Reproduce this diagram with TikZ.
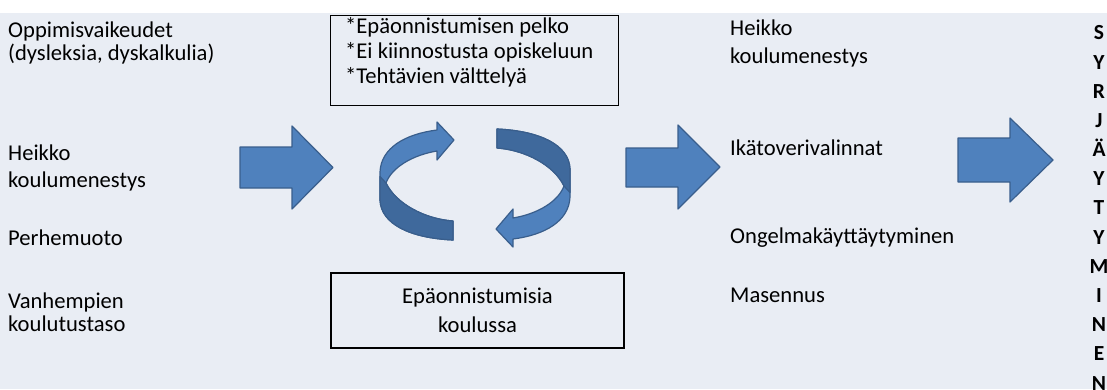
\documentclass[tikz,border=0pt]{standalone}
\usepackage{fontspec}
\setmainfont{Carlito}
\definecolor{bg}{HTML}{E9EDF4}
\definecolor{arrowfill}{HTML}{4F81BD}
\definecolor{arrowdark}{HTML}{3F699C}
\definecolor{arrowline}{HTML}{395E8C}
\begin{document}
\begin{tikzpicture}[x=1pt,y=-1pt,
  txt/.style={font=\fontsize{22.6}{27}\selectfont, inner sep=0pt, anchor=base west, align=left},
  tighttxt/.style={txt, font=\fontsize{22.6}{23}\selectfont},
  boxline/.style={draw=black, line width=1.4pt},
  blockarrow/.style={fill=arrowfill, draw=arrowline, line width=1.2pt, line join=round},
  ribbon/.pic={
    \draw[blockarrow]
      (-22,36.5) -- (-22,55.5)
      .. controls (-65,53.5) and (-94,39.5) .. (-95,15.5)
      -- (-95,-12.5)
      .. controls (-94,-36.5) and (-70,-50.5) .. (-38,-54.5)
      -- (-38,-62.5) -- (-21,-44.5) -- (-38,-24.5) -- (-38,-33.5)
      .. controls (-62,-29.5) and (-83,-17.5) .. (-89,-1.5)
      .. controls (-79,19.5) and (-50,34.5) .. (-22,36.5) -- cycle;
    \draw[blockarrow, fill=arrowdark]
      (-95,-8) -- (-95,15.5)
      .. controls (-94,39.5) and (-65,53.5) .. (-22,55.5)
      -- (-22,36.5)
      .. controls (-50,34.5) and (-79,19.5) .. (-89,-1.5) -- cycle;
  }]
\useasboundingbox (0,0) rectangle (1107,389);
\fill[white] (0,0) rectangle (1107,389);
\fill[bg] (0,13) rectangle (1107,389);

% left column (anchor = baseline of the last line)
\node[tighttxt] (oppi) at (8,60) {Oppimisvaikeudet\\(dysleksia, dyskalkulia)};
\node[txt] (heikkoL) at (8,187) {Heikko\\koulumenestys};
\node[txt] (perhe) at (8,245) {Perhemuoto};
\node[tighttxt] (vanh) at (8,331) {Vanhempien\\koulutustaso};

% top box
\node[boxline, minimum width=288pt, minimum height=90pt, anchor=north west, inner sep=0pt] (topbox) at (330,15) {};
\node[txt, font=\fontsize{22.6}{25}\selectfont] (toptext) at (345,83)
  {*Epäonnistumisen pelko\\*Ei kiinnostusta opiskeluun\\*Tehtävien välttelyä};

% bottom box
\node[boxline, minimum width=293pt, minimum height=75pt, align=center, inner sep=0pt,
      font=\fontsize{22.6}{29}\selectfont] (botbox) at (477.5,310.5) {Epäonnistumisia\\koulussa};

% cycle arrows
\pic at (475,184.5) {ribbon};
\pic[rotate=180] at (475,184.5) {ribbon};

% block arrows
\draw[blockarrow] (240,147) -- (292,147) -- (292,126) -- (333,167.5) -- (292,209) -- (292,188) -- (240,188) -- cycle;
\draw[blockarrow] (626,148) -- (678,148) -- (678,125) -- (720,167) -- (678,209) -- (678,187) -- (626,187) -- cycle;
\draw[blockarrow] (958,138) -- (1010,138) -- (1010,118) -- (1053,160) -- (1010,202) -- (1010,182) -- (958,182) -- cycle;

% right column
\node[txt, font=\fontsize{22.6}{28}\selectfont] (heikkoR) at (730,63.5) {Heikko\\koulumenestys};
\node[txt] (ika) at (730,155) {Ikätoverivalinnat};
\node[txt] (ongelma) at (730,243) {Ongelmakäyttäytyminen};
\node[txt] (masennus) at (730,302) {Masennus};

% vertical word
\node[font=\fontsize{21.5}{29.17}\selectfont\bfseries, align=center, anchor=base, inner sep=0pt] (syr) at (1099,390)
  {S\\Y\\R\\J\\Ä\\Y\\T\\Y\\M\\I\\N\\E\\N};
\end{tikzpicture}
\end{document}
